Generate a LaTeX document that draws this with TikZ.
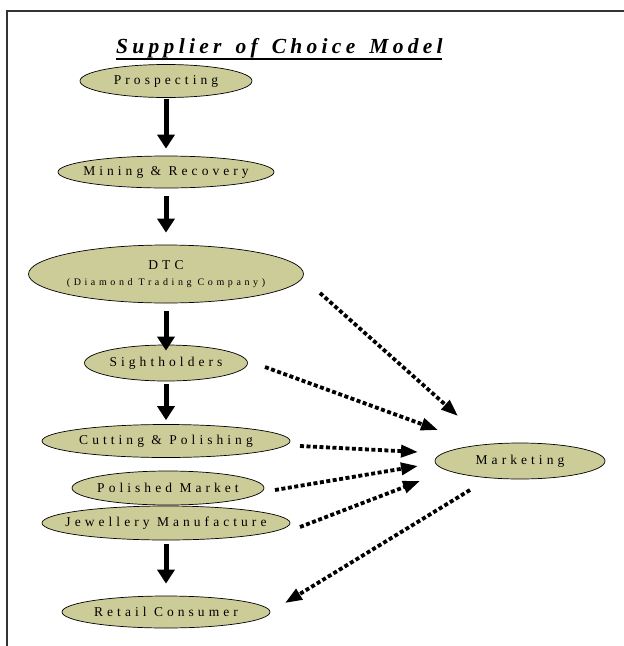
\documentclass[tikz,border=0pt]{standalone}
\usepackage{fontspec}
\setmainfont{Liberation Serif}
\usetikzlibrary{shapes.geometric,arrows.meta,calc}
\definecolor{khaki}{RGB}{204,204,153}

\begin{document}
\begin{tikzpicture}[x=1pt,y=-1pt,
  stage/.style={ellipse,draw=black,line width=0.7pt,fill=khaki,inner sep=-20pt,
    font=\fontsize{13.5}{15}\selectfont\addfontfeature{LetterSpace=30}},
  flow/.style={line width=5pt,-{Triangle[length=14pt,width=17pt]}},
  feed/.style={line width=3.8pt,dash pattern=on 4pt off 2.5pt,
    -{Triangle[length=17pt,width=12pt]}},
]
\useasboundingbox (0,0) rectangle (624,646);

% page frame (top and left rules)
\draw[line width=1.8pt,black!80] (624,11) -- (7,11) -- (7,646);

% heading, widely tracked
\node[anchor=base west,inner sep=0pt,
  font=\fontsize{21.5}{23}\selectfont\bfseries\itshape\addfontfeature{LetterSpace=20}]
  (title) at (116,53) {Supplier\hspace{14pt}of\hspace{14pt}Choice\hspace{14pt}Model};
\draw[line width=2pt] (116,59) -- (442,59);

% supply chain stages
\node[stage,minimum width=172pt,minimum height=33pt] (pros) at (166,81) {Prospecting};
\node[stage,minimum width=216pt,minimum height=32pt] (mine) at (166,172) {Mining \& Recovery};
\node[stage,minimum width=275pt,minimum height=58pt,align=center] (dtc) at (166,274)
  {DTC\\[1pt]{\fontsize{10}{11}\selectfont\addfontfeature{LetterSpace=36}(Diamond Trading Company)}};
\node[stage,minimum width=163pt,minimum height=36pt] (sight) at (166,363) {Sightholders};
\node[stage,minimum width=248pt,minimum height=33pt] (cut) at (166,441) {Cutting \& Polishing};
\node[stage,minimum width=192pt,minimum height=34pt] (pol) at (168,488) {Polished Market};
\node[stage,minimum width=248pt,minimum height=34pt] (jew) at (166,523) {Jewellery Manufacture};
\node[stage,minimum width=208pt,minimum height=32pt] (retail) at (166,612) {Retail Consumer};
\node[stage,minimum width=170pt,minimum height=36pt] (mkt) at (520,461) {Marketing};

% main flow
\draw[flow,shorten <=1pt,shorten >=7pt] (pros.south) -- (mine.north);
\draw[flow,shorten <=8pt,shorten >=12pt] (mine.south) -- (dtc.north);
\draw[flow,shorten <=8pt,shorten >=-6pt] (dtc.south) -- (sight.north);
\draw[flow,shorten <=3pt,shorten >=4pt] (sight.south) -- (cut.north);
\draw[flow,shorten <=4pt,shorten >=12pt] (jew.south) -- (retail.north);

% links to and from marketing
\draw[feed] ($(dtc)+(154,19)$) -- ($(mkt)+(-62,-45)$);
\draw[feed] ($(sight)+(99,4)$) -- ($(mkt)+(-82,-31)$);
\draw[feed] ($(cut)+(134,5)$) -- ($(mkt)+(-102,-9)$);
\draw[feed] ($(pol)+(107,2)$) -- ($(mkt)+(-102,5)$);
\draw[feed] ($(jew)+(134,4)$) -- ($(mkt)+(-100,20)$);
\draw[feed] ($(mkt)+(-50,29)$) -- ($(retail)+(119,-9)$);
\end{tikzpicture}
\end{document}
